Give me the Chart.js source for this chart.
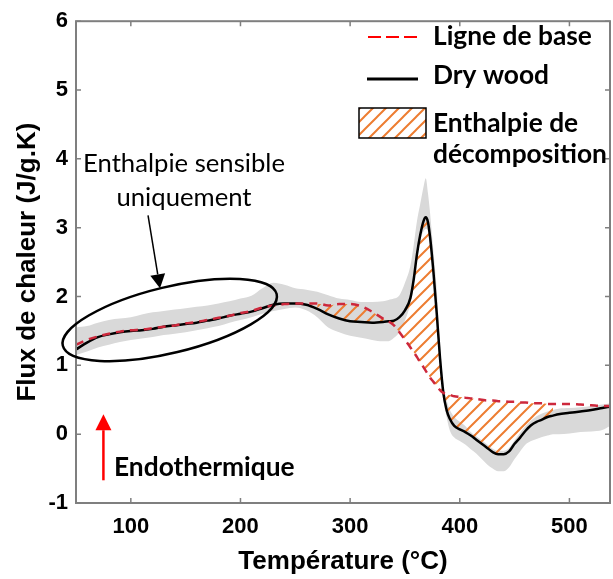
<!DOCTYPE html>
<html>
<head>
<meta charset="utf-8">
<script src="https://cdn.jsdelivr.net/npm/chart.js@4/dist/chart.umd.min.js"></script>
<style>
  body { margin: 0; background: #fff; }
  #wrap { width: 613px; height: 579px; }
</style>
</head>
<body>
<div id="wrap"><canvas id="dsc" width="613" height="579"></canvas></div>
<script>
// temperature grid (°C)
const temps = [50, 60, 70, 80, 90, 100, 110, 120, 130, 140, 150, 160, 170, 180, 190, 200,
  210, 220, 230, 240, 250, 260, 270, 280, 290, 300, 310, 320, 330,
  335, 340, 345, 350, 355, 358, 361, 364, 367, 369, 371, 373, 376, 379, 382, 385, 388, 391,
  395, 400, 405, 410, 415, 420, 425, 430, 435, 440, 445, 450, 455, 460, 465, 470, 475, 480, 485,
  490, 500, 510, 520, 530, 537];

// heat flow, dry wood (J/g.K)
const dryWood = [1.23, 1.33, 1.41, 1.45, 1.48, 1.50, 1.51, 1.53, 1.56, 1.58, 1.60, 1.62, 1.65, 1.68, 1.72, 1.75,
  1.78, 1.83, 1.88, 1.90, 1.90, 1.88, 1.82, 1.74, 1.68, 1.64, 1.63, 1.62, 1.63,
  1.64, 1.65, 1.70, 1.80, 1.98, 2.25, 2.62, 2.90, 3.10, 3.15, 3.08, 2.85, 2.35, 1.75, 1.10, 0.60, 0.35, 0.22,
  0.12, 0.07, 0.03, -0.02, -0.08, -0.14, -0.20, -0.26, -0.29, -0.29, -0.25, -0.14, -0.05, 0.05, 0.13, 0.18, 0.21, 0.25, 0.27,
  0.29, 0.31, 0.33, 0.35, 0.38, 0.40];

// baseline ("Ligne de base")
const baseline = [1.30, 1.37, 1.42, 1.46, 1.49, 1.51, 1.52, 1.54, 1.56, 1.58, 1.61, 1.63, 1.66, 1.69, 1.72, 1.76,
  1.79, 1.84, 1.87, 1.89, 1.90, 1.90, 1.90, 1.87, 1.89, 1.89, 1.86, 1.78, 1.68,
  1.64, 1.58, 1.48, 1.37, 1.26, 1.19, 1.12, 1.04, 0.97, 0.92, 0.87, 0.82, 0.76, 0.70, 0.64, 0.60, 0.58, 0.57,
  0.55, 0.54, 0.53, 0.52, 0.51, 0.50, 0.49, 0.49, 0.48, 0.48, 0.47, 0.47, 0.46, 0.46, 0.45, 0.45, 0.45, 0.44, 0.44,
  0.44, 0.44, 0.43, 0.42, 0.41, 0.41];

// grey dispersion band
const bandUpper = [1.55, 1.57, 1.62, 1.66, 1.68, 1.70, 1.74, 1.77, 1.79, 1.81, 1.83, 1.85, 1.87, 1.90, 1.93, 1.97,
  2.01, 2.12, 2.20, 2.17, 2.12, 2.10, 2.07, 2.02, 1.97, 1.95, 1.92, 1.92, 1.93,
  1.95, 1.97, 2.02, 2.20, 2.45, 2.75, 3.10, 3.35, 3.60, 3.72, 3.50, 3.20, 2.65, 2.10, 1.30, 0.75, 0.50, 0.35,
  0.25, 0.18, 0.12, 0.03, -0.03, -0.09, -0.15, -0.21, -0.24, -0.24, -0.20, -0.09, 0.02, 0.12, 0.20, 0.26, 0.30, 0.33, 0.35,
  0.37, 0.38, 0.39, 0.41, 0.43, 0.45];
const bandLower = [1.15, 1.20, 1.26, 1.30, 1.34, 1.37, 1.39, 1.41, 1.44, 1.46, 1.48, 1.51, 1.54, 1.57, 1.62, 1.66,
  1.70, 1.75, 1.79, 1.82, 1.84, 1.80, 1.70, 1.55, 1.48, 1.43, 1.40, 1.37, 1.35,
  1.35, 1.40, 1.48, 1.65, 1.90, 2.15, 2.55, 2.82, 2.95, 2.98, 2.95, 2.75, 2.25, 1.65, 1.00, 0.50, 0.25, 0.05,
  -0.05, -0.10, -0.15, -0.22, -0.28, -0.36, -0.44, -0.50, -0.54, -0.54, -0.48, -0.36, -0.25, -0.15, -0.10, -0.07, -0.04, -0.02, 0.00,
  0.00, 0.01, 0.03, 0.04, 0.06, 0.12];

// decomposition enthalpy zone (hatched)
const hatchFrom = 270;
const hatchTo = 485;

const xTicks = [100, 200, 300, 400, 500];
const yTicks = [-1, 0, 1, 2, 3, 4, 5, 6];

const ORANGE = '#ED7D31';
const FRAME = '#7f7f7f';
const AXIS_FONT = '"Liberation Sans", Arial, sans-serif';
const NOTE_FONT = 'Lato, "Open Sans", sans-serif';

function pts(vals) {
    return temps.map((t, i) => ({ x: t, y: vals[i] }));
}

function makeHatch() {
    const c = document.createElement('canvas');
    const s = 13;
    c.width = s; c.height = s;
    const g = c.getContext('2d');
    g.strokeStyle = ORANGE;
    g.lineWidth = 2;
    g.beginPath();
    g.moveTo(0, s); g.lineTo(s, 0);
    g.moveTo(-3, 3); g.lineTo(3, -3);
    g.moveTo(s - 3, s + 3); g.lineTo(s + 3, s - 3);
    g.stroke();
    return g.createPattern(c, 'repeat');
}
const hatch = makeHatch();

const hatchPts = [];
temps.forEach((t, i) => {
    if (t >= hatchFrom && t <= hatchTo) hatchPts.push({ x: t, y: baseline[i] });
});

function fitSize(ctx, text, weight, family, targetW) {
    ctx.font = `${weight} 100px ${family}`;
    return 100 * targetW / ctx.measureText(text).width;
}

function arrow(ctx, x1, y1, x2, y2, color, lw, headLen, headW) {
    const ang = Math.atan2(y2 - y1, x2 - x1);
    const bx = x2 - headLen * Math.cos(ang);
    const by = y2 - headLen * Math.sin(ang);
    ctx.strokeStyle = color;
    ctx.fillStyle = color;
    ctx.lineWidth = lw;
    ctx.beginPath();
    ctx.moveTo(x1, y1);
    ctx.lineTo(bx, by);
    ctx.stroke();
    ctx.beginPath();
    ctx.moveTo(x2, y2);
    ctx.lineTo(bx + headW / 2 * Math.sin(ang), by - headW / 2 * Math.cos(ang));
    ctx.lineTo(bx - headW / 2 * Math.sin(ang), by + headW / 2 * Math.cos(ang));
    ctx.closePath();
    ctx.fill();
}

// box around the axes with inward ticks on all sides
const framePlugin = {
    id: 'frame',
    afterDatasetsDraw(chart) {
        const { ctx, chartArea: a, scales: { x, y } } = chart;
        ctx.save();
        ctx.strokeStyle = FRAME;
        ctx.lineWidth = 2;
        ctx.strokeRect(a.left, a.top, a.right - a.left, a.bottom - a.top);
        ctx.lineWidth = 1.5;
        ctx.beginPath();
        xTicks.forEach(v => {
            const px = x.getPixelForValue(v);
            ctx.moveTo(px, a.bottom); ctx.lineTo(px, a.bottom - 5);
            ctx.moveTo(px, a.top); ctx.lineTo(px, a.top + 5);
        });
        yTicks.forEach(v => {
            const py = y.getPixelForValue(v);
            ctx.moveTo(a.left, py); ctx.lineTo(a.left + 5, py);
            ctx.moveTo(a.right, py); ctx.lineTo(a.right - 5, py);
        });
        ctx.stroke();
        ctx.restore();
    }
};

// annotations: ellipse, arrows, texts and the legend
const notesPlugin = {
    id: 'notes',
    afterDraw(chart) {
        const { ctx, scales: { x, y } } = chart;
        ctx.save();

        // ellipse round the sensible-enthalpy part
        ctx.strokeStyle = '#000';
        ctx.lineWidth = 2.5;
        ctx.beginPath();
        ctx.ellipse(x.getPixelForValue(135.5), y.getPixelForValue(1.66), 110, 33, -13.6 * Math.PI / 180, 0, 2 * Math.PI);
        ctx.stroke();

        arrow(ctx, x.getPixelForValue(115.7), y.getPixelForValue(3.18),
            x.getPixelForValue(126.6), y.getPixelForValue(2.12), '#000', 1.5, 14, 15);

        arrow(ctx, x.getPixelForValue(75), y.getPixelForValue(-0.67),
            x.getPixelForValue(75), y.getPixelForValue(0.29), '#ff0000', 2.5, 16, 16);

        const regSize = fitSize(ctx, 'Enthalpie sensible', 400, NOTE_FONT, 202);
        const boldSize = fitSize(ctx, 'décomposition', 700, NOTE_FONT, 174);

        ctx.fillStyle = '#000';
        ctx.textBaseline = 'middle';
        ctx.textAlign = 'center';
        ctx.font = `400 ${regSize}px ${NOTE_FONT}`;
        ctx.fillText('Enthalpie sensible', 184, 164);
        ctx.fillText('uniquement', 184, 198);

        ctx.textAlign = 'left';
        ctx.font = `700 ${boldSize}px ${NOTE_FONT}`;
        ctx.fillText('Endothermique', 114, 467);

        // legend
        ctx.strokeStyle = '#ff0000';
        ctx.lineWidth = 2;
        ctx.setLineDash([13, 5]);
        ctx.beginPath();
        ctx.moveTo(368, 37); ctx.lineTo(418, 37);
        ctx.stroke();
        ctx.setLineDash([]);

        ctx.strokeStyle = '#000';
        ctx.lineWidth = 3;
        ctx.beginPath();
        ctx.moveTo(367, 79); ctx.lineTo(418, 79);
        ctx.stroke();

        ctx.fillStyle = '#fff';
        ctx.fillRect(359, 108, 67, 30);
        ctx.fillStyle = hatch;
        ctx.fillRect(359, 108, 67, 30);
        ctx.strokeStyle = '#000';
        ctx.lineWidth = 1.5;
        ctx.strokeRect(359, 108, 67, 30);

        ctx.fillStyle = '#000';
        ctx.fillText('Ligne de base', 433, 36);
        ctx.fillText('Dry wood', 433, 75);
        ctx.fillText('Enthalpie de', 433, 123);
        ctx.fillText('décomposition', 433, 154);

        ctx.restore();
    }
};

const lineOpts = { pointRadius: 0, cubicInterpolationMode: 'monotone' };

new Chart(document.getElementById('dsc'), {
    type: 'line',
    data: {
        datasets: [
            Object.assign({ label: 'band+', data: pts(bandUpper), borderWidth: 0, fill: '+1',
                backgroundColor: 'rgb(217,217,217)', order: 5 }, lineOpts),
            Object.assign({ label: 'band-', data: pts(bandLower), borderWidth: 0, fill: false, order: 4 }, lineOpts),
            Object.assign({ label: 'Enthalpie de décomposition', data: hatchPts, borderWidth: 0, fill: 3,
                backgroundColor: hatch, order: 3 }, lineOpts),
            Object.assign({ label: 'Dry wood', data: pts(dryWood), borderColor: '#000', borderWidth: 2.5,
                fill: false, order: 2 }, lineOpts),
            Object.assign({ label: 'Ligne de base', data: pts(baseline), borderColor: 'rgb(205,40,60)',
                borderWidth: 2.5, borderDash: [8, 6], fill: false, order: 1 }, lineOpts)
        ]
    },
    options: {
        responsive: false,
        animation: false,
        events: [],
        layout: { padding: { top: 19, right: 3, left: 0, bottom: 0 } },
        plugins: { legend: { display: false }, tooltip: { enabled: false } },
        scales: {
            x: {
                type: 'linear',
                min: 50,
                max: 537,
                afterBuildTicks: s => { s.ticks = xTicks.map(v => ({ value: v })); },
                afterFit: s => { s.height = 76; },
                grid: { display: false, drawTicks: false },
                border: { display: false },
                ticks: { color: '#000', padding: 11, maxRotation: 0,
                    font: { family: AXIS_FONT, size: 22, weight: 'bold' } },
                title: { display: true, text: 'Température (°C)', color: '#000',
                    padding: { top: 0, bottom: 2 },
                    font: { family: AXIS_FONT, size: 26, weight: 'bold', lineHeight: 1.2 } }
            },
            y: {
                min: -1,
                max: 6,
                afterBuildTicks: s => { s.ticks = yTicks.map(v => ({ value: v })); },
                afterFit: s => { s.width = 76; },
                grid: { display: false, drawTicks: false },
                border: { display: false },
                ticks: { color: '#000', padding: 8,
                    font: { family: AXIS_FONT, size: 22, weight: 'bold' } },
                title: { display: true, text: 'Flux de chaleur (J/g.K)', color: '#000',
                    padding: { top: 12, bottom: 0 },
                    font: { family: AXIS_FONT, size: 26, weight: 'bold', lineHeight: 1.2 } }
            }
        }
    },
    plugins: [framePlugin, notesPlugin]
});
</script>
</body>
</html>
